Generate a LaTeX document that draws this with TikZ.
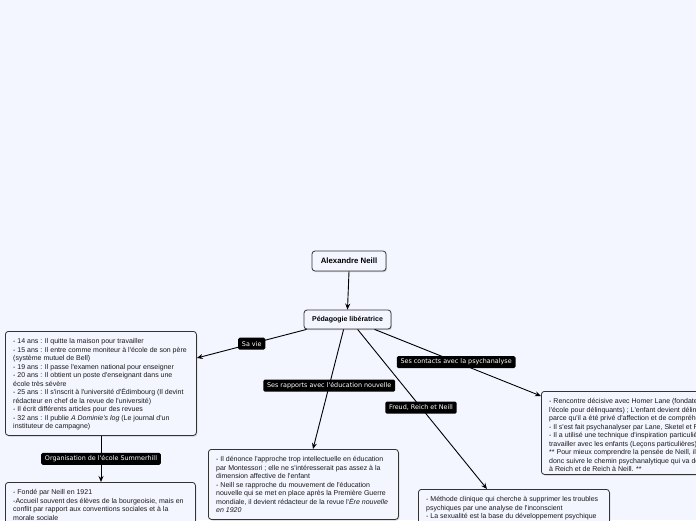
\documentclass[tikz,border=0pt]{standalone}
\usepackage{fontspec}
\setmainfont{Liberation Sans}[Ligatures=TeXOff]
\newfontfamily\labfont{DejaVu Sans}[Ligatures=TeXOff]
\usetikzlibrary{calc,shadows,arrows.meta}
\definecolor{bg}{HTML}{F3F6FF}
\definecolor{edgecol}{HTML}{333333}
\begin{document}
\begin{tikzpicture}[x=1pt,y=-1pt,
  box/.style={draw=edgecol, line width=0.8pt, rounded corners=3pt, fill=bg,
    anchor=north west, inner sep=0pt,
    drop shadow={shadow xshift=0.9pt,shadow yshift=-1.1pt,opacity=0.35}},
  titlebox/.style={box, anchor=center, font=\bfseries\fontsize{7}{8.5}\selectfont},
  boxtext/.style={anchor=north west, align=left, inner sep=0pt,
    font=\fontsize{7}{8.5}\selectfont, text=black!90},
  lab/.style={fill=black, text=white, font=\labfont\fontsize{6.4}{7}\selectfont,
    rounded corners=1.5pt, inner xsep=3.8pt, inner ysep=0pt, minimum height=12pt},
  arr/.style={-{Stealth[length=6pt,width=5pt]}, line width=0.9pt, black}]

\fill[bg] (0,0) rectangle (696,520);
\useasboundingbox (0,0) rectangle (696,520);

% central nodes
\node[titlebox, minimum width=74pt, minimum height=20pt,
  font=\bfseries\fontsize{7.8}{9}\selectfont] (neill) at (349,261) {Alexandre Neill};
\node[titlebox, minimum width=87pt, minimum height=19pt] (ped) at (347.5,319.5) {Pédagogie libératrice};

% content boxes
\node[box, minimum width=191pt, minimum height=104pt] (vie) at (5,331) {};
\node[boxtext] (vietext) at ($(vie.north west)+(8,7.5)$) {%
- 14 ans : Il quitte la maison pour travailler\\
- 15 ans : Il entre comme moniteur à l'école de son père\\
(système mutuel de Bell)\\
- 19 ans :  Il passe l'examen national pour enseigner\\
- 20 ans : Il obtient un poste d'enseignant dans une\\
école très sévère\\
- 25 ans : Il s'inscrit à l'université d'Édimbourg (Il devint\\
rédacteur en chef de la revue de l'université)\\
- Il écrit différents articles pour des revues\\
- 32 ans : Il publie \textit{A Dominie's log} (Le journal d'un\\
instituteur de campagne)};

\node[box, minimum width=191pt, minimum height=83pt] (psy) at (541,391) {};
\node[boxtext] (psytext) at ($(psy.north west)+(8,7.5)$) {%
- Rencontre décisive avec Homer Lane (fondateur de\\
l'école pour délinquants) ; L'enfant devient délinquant\\
parce qu'il a été privé d'affection et de compréhension\\
- Il s'est fait psychanalyser par Lane, Sketel et Reich\\
- Il a utilisé une technique d'inspiration particulière pour\\
travailler avec les enfants (Leçons particulières).\\
** Pour mieux comprendre la pensée de Neill, il faut\\
donc suivre le chemin psychanalytique qui va de Freud\\
à Reich et de Reich à Neill. **};

\node[box, minimum width=190pt, minimum height=70pt] (edu) at (208,449) {};
\node[boxtext] (edutext) at ($(edu.north west)+(8,7.5)$) {%
- Il dénonce l'approche trop intellectuelle en éducation\\
par Montessori ; elle ne s'intéresserait pas assez à la\\
dimension affective de l'enfant\\
- Neill se rapproche du mouvement de l'éducation\\
nouvelle qui se met en place après la Première Guerre\\
mondiale, il devient rédacteur de la revue l'\textit{Ère nouvelle}\\
\textit{en 1920}};

\node[box, minimum width=191pt, minimum height=60pt] (freud) at (418,489) {};
\node[boxtext] (freudtext) at ($(freud.north west)+(8,7.5)$) {%
- Méthode clinique qui cherche à supprimer les troubles\\
psychiques par une analyse de l'inconscient\\
- La sexualité est la base du développement psychique};

\node[box, minimum width=190pt, minimum height=60pt] (summer) at (5,482) {};
\node[boxtext] (summertext) at ($(summer.north west)+(8,7.5)$) {%
- Fondé par Neill en 1921\\
-Accueil souvent des élèves de la bourgeoisie, mais en\\
conflit par rapport aux conventions sociales et à la\\
morale sociale};

% connectors
\draw[arr] (neill.south) -- (ped.north);
\draw[arr] ($(ped.south west)+(3,0)$) -- node[lab] (lvie) {Sa vie} ($(vie.north east)+(0,27)$);
\draw[arr] ($(ped.south west)+(71,0)$) -- node[lab, pos=0.49] (lpsy) {Ses contacts avec la psychanalyse} ($(psy.north west)+(0,5)$);
\draw[arr] ($(ped.south west)+(40,0)$) -- node[lab, pos=0.47] (ledu) {Ses rapports avec l'éducation nouvelle} ($(edu.north west)+(105,0)$);
\draw[arr] ($(ped.south west)+(54,0)$) -- node[lab, pos=0.49] (lfreud) {Freud, Reich et Neill} ($(freud.north west)+(69,0)$);
\draw[arr] ($(vie.south west)+(96,0)$) -- node[lab] (lsummer) {Organisation de l'école Summerhill} ($(summer.north west)+(96,0)$);
\end{tikzpicture}
\end{document}
